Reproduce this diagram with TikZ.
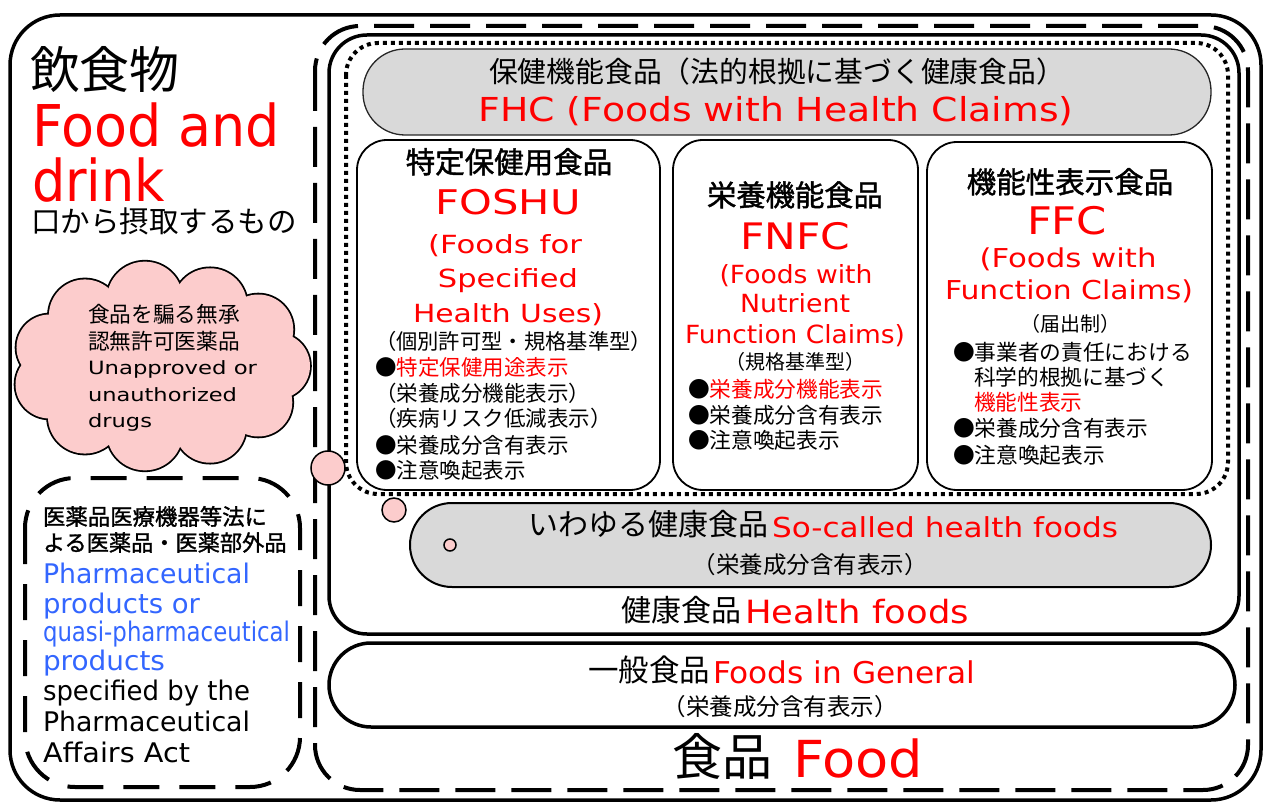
\documentclass[tikz,border=0pt]{standalone}
\usepackage{fontspec}
\usepackage{graphicx}
\setmainfont{Noto Sans CJK JP}
\newfontfamily\jpb[FakeBold=1.4]{Noto Sans CJK JP}
\newfontfamily\en{DejaVu Sans}
\newcommand\fs[1]{\fontsize{#1}{#1}\selectfont}
\newcommand\hw[2]{\resizebox{#1}{\height}{#2}}
\definecolor{myred}{RGB}{255,0,0}
\definecolor{myblue}{RGB}{51,102,255}
\definecolor{cloudpink}{RGB}{252,204,204}
\definecolor{boxgray}{RGB}{217,217,217}
\begin{document}
\begin{tikzpicture}[x=1pt,y=-1pt,
  t/.style={inner sep=0pt, outer sep=0pt},
  tb/.style={t, anchor=base},
  tw/.style={t, anchor=base west},
  red/.style={text=myred},
  blu/.style={text=myblue},
  bigline/.style={line width=3.5pt},
  longdash/.style={line width=4pt, dash pattern=on 40pt off 16pt},
  dotline/.style={line width=4pt, dash pattern=on 4pt off 4pt},
  inbox/.style={line width=1.8pt, rounded corners=30pt},
  pill/.style={line width=1.3pt, draw=black!85, fill=boxgray, rounded corners=42pt},
  bubble/.style={circle, draw, line width=1.5pt, fill=cloudpink, inner sep=0pt}
]
\useasboundingbox (0,0) rectangle (1264,802);

% containers
\draw[bigline, rounded corners=50pt] (10,15) rectangle (1261,800);
\draw[longdash, rounded corners=45pt] (315,26) rectangle (1248,790);
\draw[bigline, rounded corners=38pt] (329,35) rectangle (1239,634);
\draw[dotline, rounded corners=32pt] (346,43) rectangle (1228,494);
\draw[pill] (363,49) rectangle (1211,135);
\draw[inbox] (357,140) rectangle (660,490);
\draw[inbox] (673,140) rectangle (918,490);
\draw[inbox] (927,142) rectangle (1212,490);
\draw[pill, line width=2pt, draw=black] (410,503) rectangle (1211,587);
\draw[bigline, rounded corners=42pt] (329,643) rectangle (1235,727);
\draw[line width=4pt, dash pattern=on 36pt off 20pt, rounded corners=50pt] (25,478) rectangle (300,787);

% cloud (union of puffs: outline first, then fill over it)
\coordinate (cloud) at (161,366);
\def\puffs{0/33, 33/35, 65/37, 98/38, 131/36, 164/33, 196/34, 229/37, 262/38, 295/36, 327/34}
\foreach \a/\r in \puffs {
  \draw[line width=3.6pt] (cloud) ++(\a:116pt and 67pt) circle (\r pt);
}
\fill[cloudpink] (cloud) ellipse (122pt and 76pt);
\foreach \a/\r in \puffs {
  \fill[cloudpink] (cloud) ++(\a:116pt and 67pt) circle (\r pt);
}
\node[bubble, minimum size=34pt] (b1) at (328,468) {};
\node[bubble, minimum size=24pt] (b2) at (394,510) {};
\node[bubble, minimum size=12pt] (b3) at (450,545) {};

% top-left
\node[tw] (yin) at (30,89) {\fs{50}飲食物};
\node[tw, red] (fad1) at (32,147) {\en\fs{57.6}\hw{248pt}{Food and}};
\node[tw, red] (fad2) at (32,202) {\en\fs{57.6}\hw{133pt}{drink}};
\node[tw] (kuchi) at (31,233) {\fs{29.5}口から摂取するもの};

% cloud text
\node[tw] (c1) at (88,323) {\fs{21.7}食品を騙る無承};
\node[tw] (c2) at (88,349) {\fs{21.7}認無許可医薬品};
\node[tw] (c3) at (88,375) {\en\fs{18.3}\hw{169pt}{Unapproved or}};
\node[tw] (c4) at (88,402) {\en\fs{18.3}\hw{149pt}{unauthorized}};
\node[tw] (c5) at (88,427) {\en\fs{18.3}\hw{64pt}{drugs}};

% pharmaceutical box
\node[tw] (p1) at (43,525) {\jpb\fs{22.4}医薬品医療機器等法に};
\node[tw] (p2) at (43,551) {\jpb\fs{22.2}よる医薬品・医薬部外品};
\node[tw, blu] (p3) at (43,583) {\en\fs{27}\hw{207pt}{Pharmaceutical}};
\node[tw, blu] (p4) at (43,613) {\en\fs{27}\hw{157pt}{products or}};
\node[tw, blu] (p5) at (43,641) {\en\fs{27}\hw{247pt}{quasi-pharmaceutical}};
\node[tw, blu] (p6) at (43,670) {\en\fs{27}\hw{122pt}{products}};
\node[tw] (p7) at (43,700) {\en\fs{27}\hw{207pt}{specified by the}};
\node[tw] (p8) at (43,731) {\en\fs{27}\hw{207pt}{Pharmaceutical}};
\node[tw] (p9) at (43,762) {\en\fs{27}\hw{147pt}{Affairs Act}};

% FHC
\node[tb] (fhcj) at (777,83) {\fs{28.8}保健機能食品（法的根拠に基づく健康食品）};
\node[tb, red] (fhce) at (776,122) {\en\fs{33}\hw{595pt}{FHC (Foods with Health Claims)}};

% FOSHU
\node[tb] (fo1) at (509,173) {\jpb\fs{29.5}特定保健用食品};
\node[tb, red] (fo2) at (508,215) {\en\fs{34}\hw{145pt}{FOSHU}};
\node[tb, red] (fo3) at (505,254) {\en\fs{25}\hw{154pt}{(Foods for}};
\node[tb, red] (fo4) at (508,288) {\en\fs{25}\hw{140pt}{Specified}};
\node[tb, red] (fo5) at (508,323) {\en\fs{25}\hw{190pt}{Health Uses)}};
\node[tw] (fo6) at (375,350) {\fs{21.3}（個別許可型・規格基準型）};
\node[tw] (fo7) at (375,375) {\fs{21.5}●{\color{myred}特定保健用途表示}};
\node[tw] (fo8) at (375,401) {\fs{21.5}（栄養成分機能表示）};
\node[tw] (fo9) at (375,426) {\fs{21.5}（疾病リスク低減表示）};
\node[tw] (fo10) at (375,453) {\fs{21.5}●栄養成分含有表示};
\node[tw] (fo11) at (375,478) {\fs{21.5}●注意喚起表示};

% FNFC
\node[tb] (fn1) at (795,206) {\jpb\fs{29.3}栄養機能食品};
\node[tb, red] (fn2) at (795,250) {\en\fs{36.5}\hw{110pt}{FNFC}};
\node[tb, red] (fn3) at (796,284) {\en\fs{25}\hw{153pt}{(Foods with}};
\node[tb, red] (fn4) at (795,313) {\en\fs{25}\hw{110pt}{Nutrient}};
\node[tb, red] (fn5) at (795,344) {\en\fs{25}\hw{220pt}{Function Claims)}};
\node[tb] (fn6) at (795,370) {\fs{20}（規格基準型）};
\node[tw] (fn7) at (688,397) {\fs{21.7}●{\color{myred}栄養成分機能表示}};
\node[tw] (fn8) at (688,423) {\fs{21.7}●栄養成分含有表示};
\node[tw] (fn9) at (688,448) {\fs{21.7}●注意喚起表示};

% FFC
\node[tb] (ff1) at (1070,193) {\jpb\fs{29.5}機能性表示食品};
\node[tb, red] (ff2) at (1067,235) {\en\fs{38}\hw{80pt}{FFC}};
\node[tb, red] (ff3) at (1068,268) {\en\fs{26}\hw{177pt}{(Foods with}};
\node[tb, red] (ff4) at (1069,300) {\en\fs{26}\hw{248pt}{Function Claims)}};
\node[tb] (ff5) at (1070,331) {\fs{20}（届出制）};
\node[tw] (ff6) at (953,360) {\fs{21.7}●事業者の責任における};
\node[tw] (ff7) at (974,385) {\fs{21.7}科学的根拠に基づく};
\node[tw, red] (ff8) at (974,410) {\fs{21.7}機能性表示};
\node[tw] (ff9) at (953,436) {\fs{21.7}●栄養成分含有表示};
\node[tw] (ff10) at (953,463) {\fs{21.7}●注意喚起表示};

% so-called health foods
\node[tw] (sc1) at (528,535) {\fs{30}いわゆる健康食品};
\node[tw, red] (sc2) at (772,537) {\en\fs{27.5}\hw{346pt}{So-called health foods}};
\node[tb] (sc3) at (810,573) {\fs{23.5}（栄養成分含有表示）};

% health foods
\node[tw] (hf1) at (621,621) {\fs{30}健康食品};
\node[tw, red] (hf2) at (745,623) {\en\fs{32}\hw{224pt}{Health foods}};

% general foods
\node[tw] (gf1) at (588,681) {\fs{30.5}一般食品};
\node[tw, red] (gf2) at (713,683) {\en\fs{30}\hw{262pt}{Foods in General}};
\node[tb] (gf3) at (780,715) {\fs{23.5}（栄養成分含有表示）};

% food
\node[tw] (fd1) at (672,775) {\fs{50}食品};
\node[tw, red] (fd2) at (793,777) {\en\fs{51}\hw{130pt}{Food}};
\end{tikzpicture}
\end{document}
